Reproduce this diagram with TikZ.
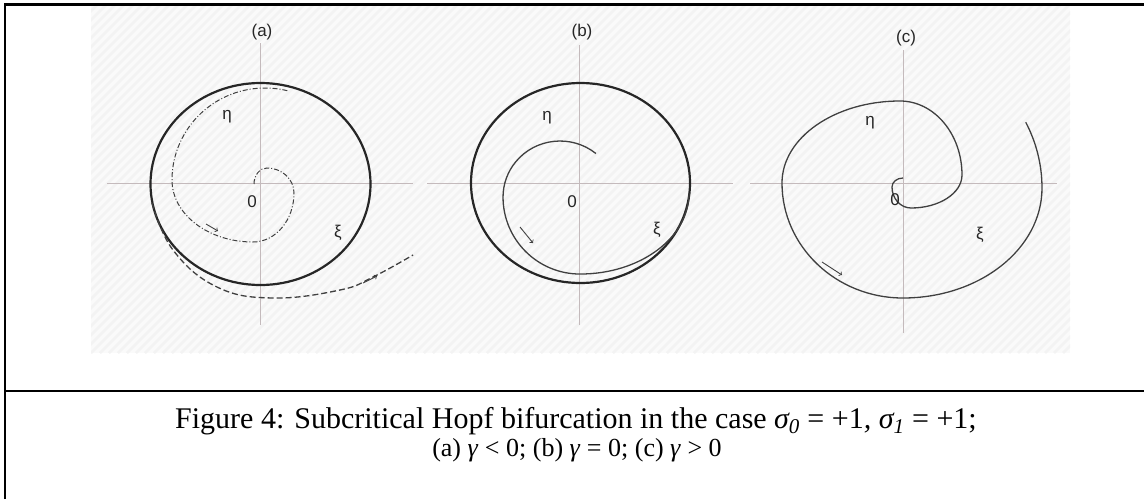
\documentclass[tikz,border=0pt]{standalone}
\usepackage{fontspec}
\setmainfont{Liberation Serif}
\newfontfamily\lblfont{Liberation Sans}
\definecolor{axisgray}{RGB}{196,186,188}
\definecolor{bgfill}{RGB}{250,250,250}
\definecolor{bghatch}{RGB}{243,243,243}
\begin{document}
\begin{tikzpicture}[x=1pt,y=-1pt,
        axis/.style={axisgray,line width=0.9pt},
        limit/.style={black!85,line width=2.2pt},
        orbit/.style={black!75,line width=1.3pt},
        flow/.style={->,black!75,line width=0.9pt},
        lbl/.style={font=\lblfont\fontsize{17}{17}\selectfont,text=black!85,inner sep=0pt}]
        \useasboundingbox (0,0) rectangle (1144,499);
        \fill[bgfill] (91,5) rectangle (1070,353);
        \begin{scope}
        \clip (91,5) rectangle (1070,353);
        \foreach \i in {-260,-251,...,1070} \draw[bghatch,line width=2.5pt] (\i,353)--(\i+348,5);
        \end{scope}
        \draw[line width=2.5pt] (5,499)--(5,4.5)--(1144,4.5);
        \draw[line width=2.5pt] (5,391)--(1144,391);
        \begin{scope}[shift={(260,183)}]
        \draw[axis] (-153,0)--(153,0);
        \draw[axis] (0,-140)--(0,142);
        \draw[limit] (0.5,1) ellipse [x radius=110pt,y radius=101pt];
        \draw[orbit,line width=1pt,dash pattern=on 5pt off 2pt on 1pt off 2pt] (-6,1)
          arc[start angle=180,end angle=90,x radius=13pt,y radius=16pt]
          arc[start angle=90,end angle=0,x radius=27pt,y radius=25pt]
          arc[start angle=0,end angle=-90,x radius=41pt,y radius=49pt]
          arc[start angle=-90,end angle=-180,x radius=81pt,y radius=62pt]
          arc[start angle=-180,end angle=-285,x radius=93pt,y radius=92pt];
        \draw[orbit,dash pattern=on 6pt off 3pt] plot[smooth,tension=0.7] coordinates {(-108,20) (-87,67) (-43,104) (13,115) (80,107) (113,94) (153,72)};
        \draw[flow] (-54,41)--(-42,48);
        \draw[flow] (103,100)--(117,93);
        \node[lbl] (tagA) at (2,-151) {(a)};
        \node[lbl] (etaA) at (-33,-66) {η};
        \node[lbl] (zeroA) at (-8,19) {0};
        \node[lbl] (xiA) at (78,50) {ξ};
        \end{scope}
        \begin{scope}[shift={(579,183)}]
        \draw[axis] (-152,0)--(154,0);
        \draw[axis] (0,-138)--(0,142);
        \draw[limit] (1.5,0) ellipse [x radius=109.5pt,y radius=100pt];
        \draw[orbit] (16.9,-29.5)
          arc[start angle=51,end angle=180,x radius=57pt,y radius=56pt]
          arc[start angle=180,end angle=270,x radius=77pt,y radius=77pt]
          arc[start angle=270,end angle=360,x radius=109pt,y radius=81pt];
        \draw[flow] (-59,44)--(-46,60);
        \node[lbl] (tagB) at (3,-151) {(b)};
        \node[lbl] (etaB) at (-32,-65) {η};
        \node[lbl] (zeroB) at (-7,19) {0};
        \node[lbl] (xiB) at (78,47) {ξ};
        \end{scope}
        \begin{scope}[shift={(903,183)}]
        \draw[axis] (-153,0)--(154,0);
        \draw[axis] (0,-133)--(0,150);
        \draw[orbit] (0,-5)
          arc[start angle=90,end angle=180,x radius=11pt,y radius=9pt]
          arc[start angle=180,end angle=270,x radius=19pt,y radius=21pt]
          arc[start angle=270,end angle=360,x radius=51pt,y radius=33pt]
          arc[start angle=0,end angle=90,x radius=62pt,y radius=74pt]
          arc[start angle=90,end angle=180,x radius=118pt,y radius=82pt]
          arc[start angle=180,end angle=270,x radius=121pt,y radius=115pt]
          arc[start angle=270,end angle=360,x radius=139pt,y radius=110pt]
          arc[start angle=0,end angle=28,x radius=139pt,y radius=140pt];
        \draw[flow] (-81,79)--(-61,92);
        \node[lbl] (tagC) at (3,-145) {(c)};
        \node[lbl] (etaC) at (-33,-60) {η};
        \node[lbl] (zeroC) at (-8,17) {0};
        \node[lbl] (xiC) at (77,52) {ξ};
        \end{scope}
        \node[anchor=base,font=\fontsize{30}{30}\selectfont,inner sep=0pt] (captionA) at (576,428)
          {Figure 4: Subcritical Hopf bifurcation in the case \textit{σ\textsubscript{0}} = +1\textit{,} \textit{σ\textsubscript{1}} = +1;};
        \node[anchor=base,font=\fontsize{26}{26}\selectfont,inner sep=0pt] (captionB) at (577,456)
          {(a) \textit{γ} < 0; (b) \textit{γ} = 0; (c) \textit{γ} > 0};
        \end{tikzpicture}
\end{document}
